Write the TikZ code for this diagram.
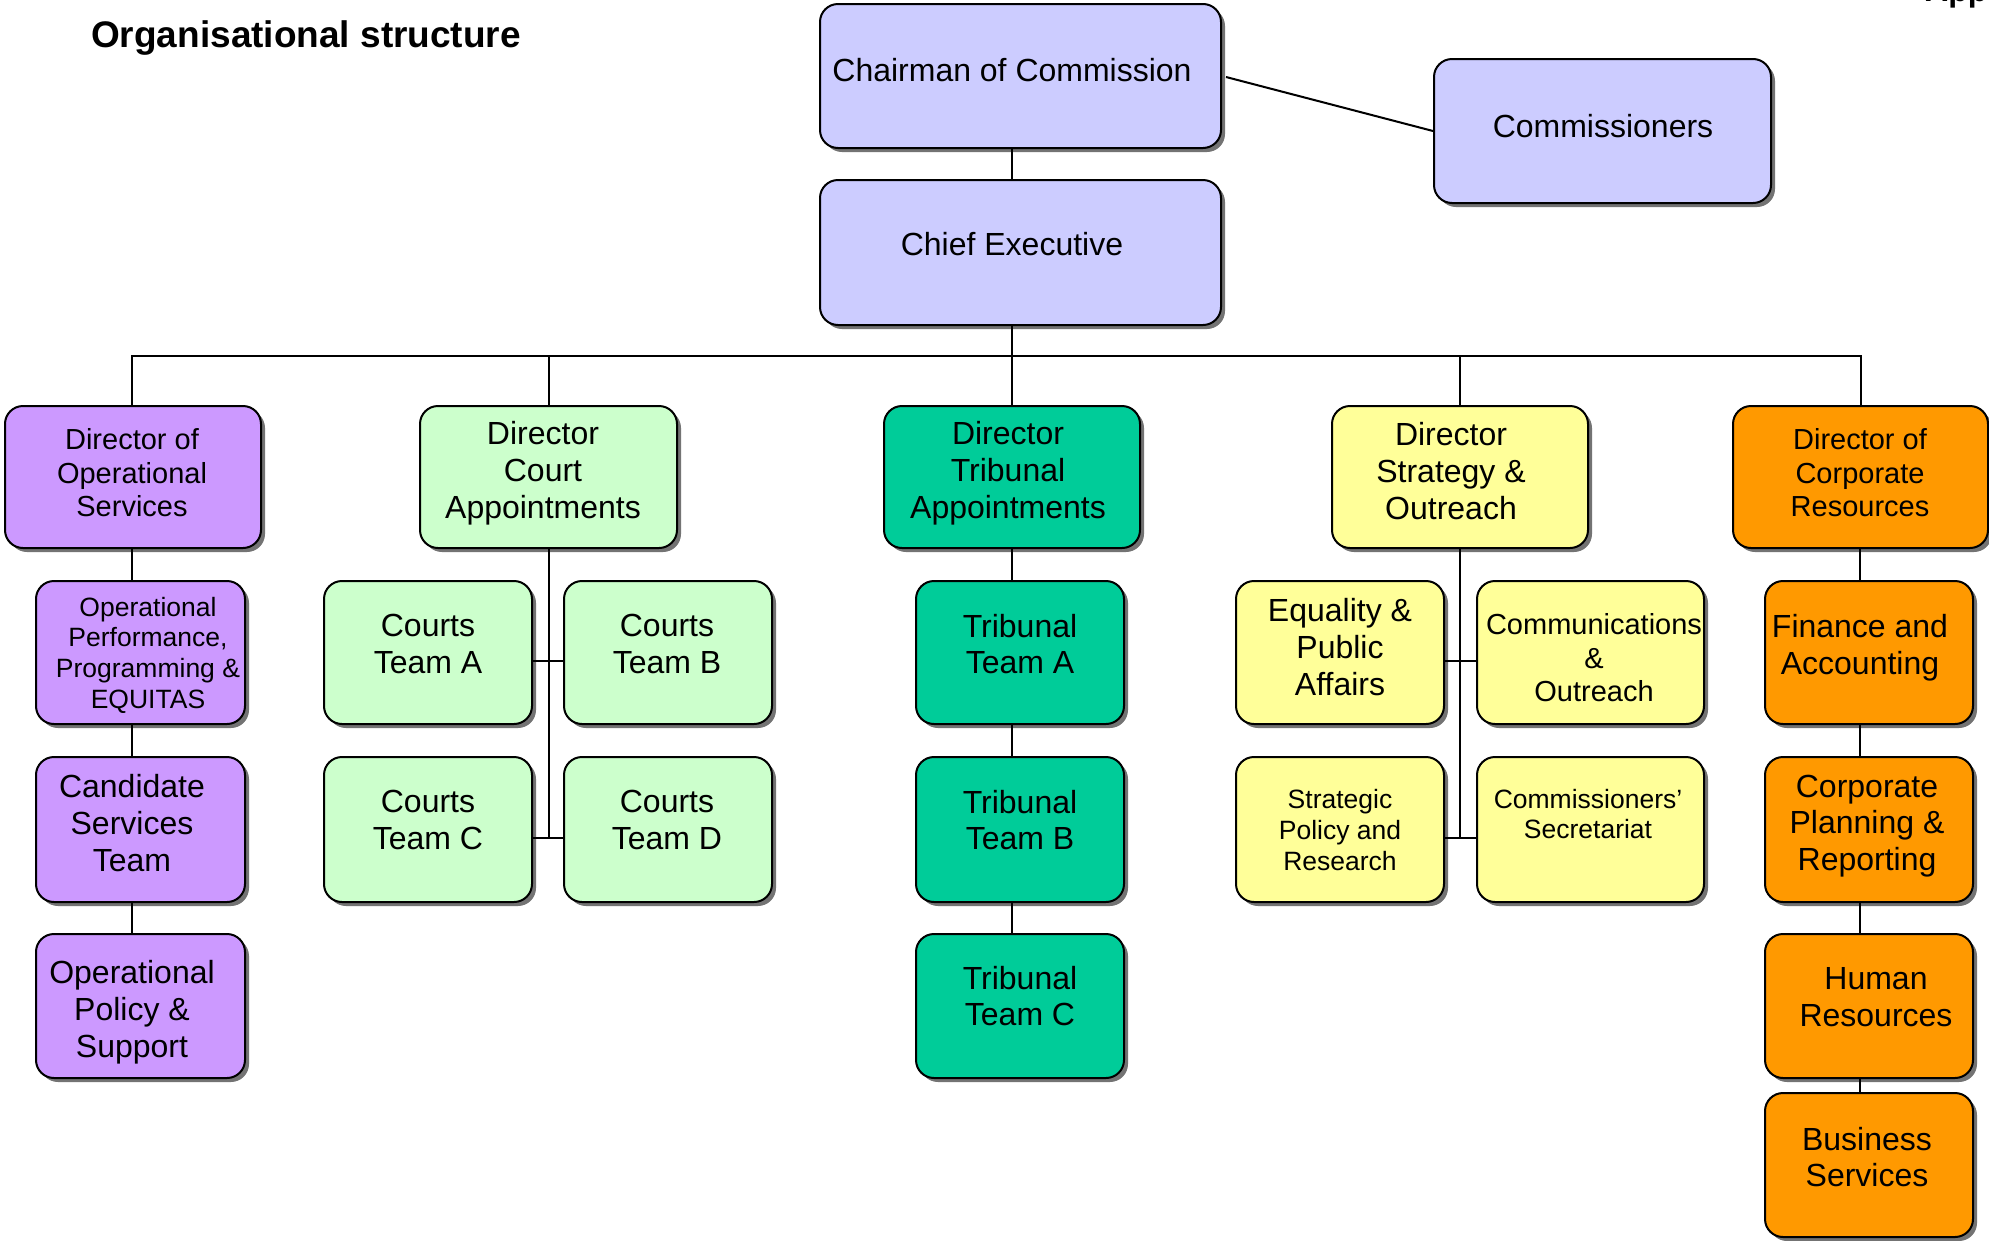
\documentclass[tikz,border=0pt]{standalone}
\usepackage{fontspec}
\setmainfont{Liberation Sans}
\usetikzlibrary{shadows,fit,calc}
\definecolor{lav}{HTML}{CCCCFF}
\definecolor{purp}{HTML}{CC99FF}
\definecolor{lgreen}{HTML}{CCFFCC}
\definecolor{teal}{HTML}{00CC99}
\definecolor{yell}{HTML}{FFFF99}
\definecolor{orng}{HTML}{FF9900}
\tikzset{
  box/.style={draw=black, line width=2pt, rounded corners=18pt, inner sep=0pt,
    drop shadow={shadow xshift=4pt, shadow yshift=-4pt, fill=black!55, opacity=1}},
  conn/.style={line width=2pt, draw=black},
  txtA/.style={align=center, inner sep=0pt, font=\fontsize{32}{36.8}\selectfont},
  txtB/.style={align=center, inner sep=0pt, font=\fontsize{29}{33.6}\selectfont},
  txtC/.style={align=center, inner sep=0pt, font=\fontsize{26.5}{30.6}\selectfont},
}
\newcommand\bx[6]{\node[box, fill=#6, fit={(#2,#3) (#4,#5)}] (#1) {};}
\begin{document}
\begin{tikzpicture}[x=1pt, y=-1pt]
\useasboundingbox[fill=white] (0,0) rectangle (1989,1240);
\begin{scope}
\clip (0,0) rectangle (1989,1240);
% title
\node[anchor=base west, inner sep=0pt, font=\bfseries\fontsize{37}{44}\selectfont] (title) at (91,47) {Organisational structure};
\node[anchor=base west, inner sep=0pt, font=\bfseries\fontsize{32}{38}\selectfont] (app) at (1925,1) {App};

% spine coordinates
\coordinate (sp) at (1012,356);
\coordinate (c1) at (132,0);
\coordinate (c3) at (1012,0);
\coordinate (c5) at (1860,0);

% boxes
\bx{chair}{820}{4}{1221}{148}{lav}
\bx{comm}{1434}{59}{1771}{203}{lav}
\bx{ceo}{820}{180}{1221}{325}{lav}
\bx{dop}{5}{406}{261}{548}{purp}
\bx{dca}{420}{406}{677}{548}{lgreen}
\bx{dta}{884}{406}{1140}{548}{teal}
\bx{dso}{1332}{406}{1588}{548}{yell}
\bx{dcr}{1733}{406}{1988}{548}{orng}
\bx{opp}{36}{581}{245}{724}{purp}
\bx{csv}{36}{757}{245}{902}{purp}
\bx{ops}{36}{934}{245}{1078}{purp}
\bx{cta}{324}{581}{532}{724}{lgreen}
\bx{ctb}{564}{581}{772}{724}{lgreen}
\bx{ctc}{324}{757}{532}{902}{lgreen}
\bx{ctd}{564}{757}{772}{902}{lgreen}
\bx{tta}{916}{581}{1124}{724}{teal}
\bx{ttb}{916}{757}{1124}{902}{teal}
\bx{ttc}{916}{934}{1124}{1078}{teal}
\bx{epa}{1236}{581}{1444}{724}{yell}
\bx{cao}{1477}{581}{1704}{724}{yell}
\bx{spr}{1236}{757}{1444}{902}{yell}
\bx{csec}{1477}{757}{1704}{902}{yell}
\bx{fac}{1765}{581}{1973}{724}{orng}
\bx{cpr}{1765}{757}{1973}{902}{orng}
\bx{hrs}{1765}{934}{1973}{1078}{orng}
\bx{bsv}{1765}{1093}{1973}{1237}{orng}

% connectors
\draw[conn] (chair.south -| sp) -- (ceo.north -| sp);
\draw[conn] ([xshift=4pt,yshift=-1pt]chair.east) -- (comm.west);
\draw[conn] (ceo.south -| sp) -- (sp);
\draw[conn] (dop.north -| c1) -- (c1 |- sp) -- (dcr.north |- sp) -- (dcr.north);
\draw[conn] (dca.north) -- (dca.north |- sp);
\draw[conn] (dta.north -| sp) -- (sp);
\draw[conn] (dso.north) -- (dso.north |- sp);
% column 1
\draw[conn] (dop.south -| c1) -- (opp.north -| c1);
\draw[conn] (opp.south -| c1) -- (csv.north -| c1);
\draw[conn] (csv.south -| c1) -- (ops.north -| c1);
% column 2
\draw[conn] (dca.south) -- (dca.south |- 0,837);
\draw[conn] ([yshift=-8pt]cta.east) -- ([yshift=-8pt]ctb.west);
\draw[conn] ([yshift=-8pt]ctc.east) -- ([yshift=-8pt]ctd.west);
% column 3
\draw[conn] (dta.south -| c3) -- (tta.north -| c3);
\draw[conn] (tta.south -| c3) -- (ttb.north -| c3);
\draw[conn] (ttb.south -| c3) -- (ttc.north -| c3);
% column 4
\draw[conn] (dso.south) -- (dso.south |- 0,837);
\draw[conn] ([yshift=-8pt]epa.east) -- ([yshift=-8pt]cao.west);
\draw[conn] ([yshift=-8pt]spr.east) -- ([yshift=-8pt]csec.west);
% column 5
\draw[conn] (dcr.south -| c5) -- (fac.north -| c5);
\draw[conn] (fac.south -| c5) -- (cpr.north -| c5);
\draw[conn] (cpr.south -| c5) -- (hrs.north -| c5);
\draw[conn] (hrs.south -| c5) -- (bsv.north -| c5);

% texts
\node[txtA] (tchair) at (1012,70) {Chairman of Commission};
\node[txtA] (tcomm) at (1603,126) {Commissioners};
\node[txtA] (tceo) at (1012,244) {Chief Executive};
\node[txtB] (tdop) at (132,473) {Director of\\Operational\\Services};
\node[txtA] (tdca) at (543,473) {Director\\Court\\Appointments};
\node[txtA] (tdta) at (1008,473) {Director\\Tribunal\\Appointments};
\node[txtA] (tdso) at (1451,471) {Director\\Strategy \&\\Outreach};
\node[txtB] (tdcr) at (1860,473) {Director of\\Corporate\\Resources};
\node[txtC] (topp) at (148,655) {Operational\\Performance,\\Programming \&\\EQUITAS};
\node[txtA] (tcsv) at (132,823) {Candidate\\Services\\Team};
\node[txtA] (tops) at (132,1012) {Operational\\Policy \&\\Support};
\node[txtA] (tcta) at (428,644) {Courts\\Team A};
\node[txtA] (tctb) at (667,644) {Courts\\Team B};
\node[txtA] (tctc) at (428,820) {Courts\\Team C};
\node[txtA] (tctd) at (667,820) {Courts\\Team D};
\node[txtA] (ttta) at (1020,644) {Tribunal\\Team A};
\node[txtA] (tttb) at (1020,820) {Tribunal\\Team B};
\node[txtA] (tttc) at (1020,996) {Tribunal\\Team C};
\node[txtA] (tepa) at (1340,647) {Equality \&\\Public\\Affairs};
\node[txtB] (tcao) at (1594,658) {Communications\\\&\\Outreach};
\node[txtC] (tspr) at (1340,830) {Strategic\\Policy and\\Research};
\node[txtC] (tcsec) at (1588,814) {Commissioners’\\Secretariat};
\node[txtA] (tfac) at (1860,648) {Finance and\\Accounting};
\node[txtA] (tcpr) at (1867,826) {Corporate\\Planning \&\\Reporting};
\node[txtA] (thrs) at (1876,997) {Human\\Resources};
\node[txtA] (tbsv) at (1867,1157) {Business\\Services};
\end{scope}
\end{tikzpicture}
\end{document}
